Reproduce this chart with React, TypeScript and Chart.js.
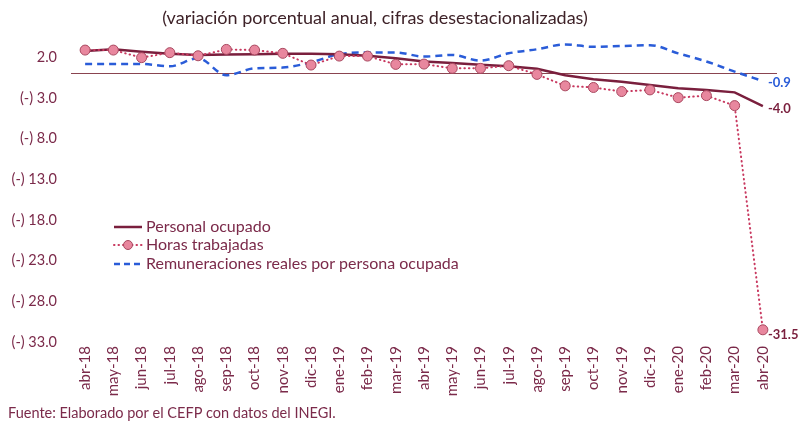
import React, { useEffect, useRef } from "react";
import { Chart, registerables } from "chart.js";

Chart.register(...registerables);

const categories = [
  "abr-18", "may-18", "jun-18", "jul-18", "ago-18", "sep-18", "oct-18", "nov-18", "dic-18",
  "ene-19", "feb-19", "mar-19", "abr-19", "may-19", "jun-19", "jul-19", "ago-19", "sep-19",
  "oct-19", "nov-19", "dic-19", "ene-20", "feb-20", "mar-20", "abr-20",
];

const personalOcupado = [
  2.8, 3.0, 2.7, 2.45, 2.3, 2.35, 2.4, 2.45, 2.45, 2.4, 2.2, 1.9, 1.5, 1.3, 1.1, 0.9, 0.6,
  -0.2, -0.7, -1.0, -1.4, -1.8, -2.0, -2.3, -4.0,
];

const horasTrabajadas = [
  2.9, 2.9, 1.97, 2.58, 2.2, 2.98, 2.9, 2.5, 1.06, 2.16, 2.16, 1.14, 1.18, 0.65, 0.65, 0.98,
  -0.09, -1.5, -1.7, -2.2, -2.0, -2.95, -2.7, -3.93, -31.5,
];

const remuneraciones = [
  1.2, 1.2, 1.2, 0.9, 1.9, -0.2, 0.65, 0.75, 1.4, 2.4, 2.6, 2.6, 2.1, 2.3, 1.6, 2.5, 3.0, 3.6,
  3.3, 3.4, 3.5, 2.5, 1.5, 0.25, -0.9,
];

const yTicks = [-33, -28, -23, -18, -13, -8, -3, 0, 2];

const seriesNames = [
  "Personal ocupado",
  "Horas trabajadas",
  "Remuneraciones reales por persona ocupada",
];

const titleText = "(variación porcentual anual, cifras desestacionalizadas)";
const sourceText = "Fuente: Elaborado por el CEFP con datos del INEGI.";

const FONT = "Lato, 'Open Sans', sans-serif";
const MAROON = "#7a1f3d";
const ZERO_LINE = "#8a4450";
const TEXT = "#7b2a4a";
const PINK_LINE = "#c8385f";
const MARKER_FILL = "#e8879e";
const MARKER_BORDER = "#a8485f";
const BLUE = "#2a5cd8";

function fmt(v: number): string {
  if (v < 0) return "(-) " + Math.abs(v).toFixed(1);
  return v.toFixed(1);
}

const overlayPlugin = {
  id: "overlay",
  afterDraw(chart: any) {
    const ctx = chart.ctx as CanvasRenderingContext2D;
    ctx.save();
    // title
    ctx.fillStyle = "#3e2228";
    ctx.font = `18px ${FONT}`;
    ctx.textAlign = "center";
    ctx.textBaseline = "middle";
    ctx.fillText(titleText, 375, 18);
    // source
    ctx.fillStyle = TEXT;
    ctx.font = `14.5px ${FONT}`;
    ctx.textAlign = "left";
    ctx.fillText(sourceText, 8, 413);

    // legend
    const lx0 = 114, lx1 = 142, tx = 146;
    const rows = [227, 245, 264];
    ctx.font = `16px ${FONT}`;
    ctx.textBaseline = "middle";
    // row 1
    ctx.strokeStyle = MAROON;
    ctx.lineWidth = 2.5;
    ctx.setLineDash([]);
    ctx.beginPath();
    ctx.moveTo(lx0, rows[0]);
    ctx.lineTo(lx1, rows[0]);
    ctx.stroke();
    // row 2
    ctx.strokeStyle = PINK_LINE;
    ctx.lineWidth = 2;
    ctx.lineCap = "round";
    ctx.setLineDash([0.5, 4]);
    ctx.beginPath();
    ctx.moveTo(lx0, rows[1]);
    ctx.lineTo(lx1, rows[1]);
    ctx.stroke();
    ctx.setLineDash([]);
    ctx.lineCap = "butt";
    ctx.fillStyle = MARKER_FILL;
    ctx.strokeStyle = MARKER_BORDER;
    ctx.lineWidth = 1;
    ctx.beginPath();
    ctx.arc((lx0 + lx1) / 2, rows[1], 4.5, 0, Math.PI * 2);
    ctx.fill();
    ctx.stroke();
    // row 3
    ctx.strokeStyle = BLUE;
    ctx.lineWidth = 2.5;
    ctx.setLineDash([6, 4]);
    ctx.beginPath();
    ctx.moveTo(lx0, rows[2]);
    ctx.lineTo(lx1, rows[2]);
    ctx.stroke();
    ctx.setLineDash([]);
    ctx.fillStyle = TEXT;
    seriesNames.forEach((n, i) => ctx.fillText(n, tx, rows[i]));

    // end labels
    ctx.font = `bold 13px ${FONT}`;
    ctx.textAlign = "left";
    const endCfg = [
      { ds: 0, dy: 3, color: MAROON },
      { ds: 1, dy: 5, color: MAROON },
      { ds: 2, dy: 2, color: BLUE },
    ];
    endCfg.forEach((c) => {
      const meta = chart.getDatasetMeta(c.ds);
      const pts = meta.data;
      const last = pts[pts.length - 1];
      const data = chart.data.datasets[c.ds].data as number[];
      const v = data[data.length - 1];
      ctx.fillStyle = c.color;
      ctx.fillText(v.toFixed(1), last.x + 5, last.y + c.dy);
    });
    ctx.restore();
  },
};

export default function App() {
  const ref = useRef<HTMLCanvasElement | null>(null);

  useEffect(() => {
    if (!ref.current) return;
    const chart = new Chart(ref.current, {
      type: "line",
      data: {
        labels: categories,
        datasets: [
          {
            label: seriesNames[0],
            data: personalOcupado,
            borderColor: MAROON,
            borderWidth: 2.5,
            pointRadius: 0,
            tension: 0,
            order: 2,
          },
          {
            label: seriesNames[1],
            data: horasTrabajadas,
            borderColor: PINK_LINE,
            borderWidth: 2,
            borderDash: [0.5, 4],
            borderCapStyle: "round",
            pointRadius: 5,
            pointBackgroundColor: MARKER_FILL,
            pointBorderColor: MARKER_BORDER,
            pointBorderWidth: 1,
            tension: 0,
            order: 1,
          },
          {
            label: seriesNames[2],
            data: remuneraciones,
            borderColor: BLUE,
            borderWidth: 2.5,
            borderDash: [7, 5],
            pointRadius: 0,
            tension: 0.3,
            cubicInterpolationMode: "monotone",
            order: 3,
          },
        ],
      },
      options: {
        animation: false,
        responsive: false,
        maintainAspectRatio: false,
        layout: { padding: { top: 33, bottom: 25, left: 0, right: 24 } },
        plugins: {
          legend: { display: false },
          title: { display: false },
          tooltip: { enabled: false },
        },
        scales: {
          x: {
            offset: true,
            grid: { display: false, drawTicks: false },
            border: { display: false },
            ticks: {
              color: TEXT,
              font: { family: FONT, size: 15 },
              maxRotation: 90,
              minRotation: 90,
              padding: 4,
              autoSkip: false,
            },
            afterFit: (s: any) => {
              s.height = 56;
            },
          },
          y: {
            min: -33,
            max: 5,
            afterBuildTicks: (s: any) => {
              s.ticks = yTicks.map((v) => ({ value: v }));
            },
            grid: {
              drawTicks: false,
              color: (c: any) => (c.tick && c.tick.value === 0 ? ZERO_LINE : "rgba(0,0,0,0)"),
              lineWidth: 1,
            },
            border: { display: false },
            ticks: {
              color: TEXT,
              font: { family: FONT, size: 14.5 },
              padding: 14,
              callback: (v: any) => (Number(v) === 0 ? "" : fmt(Number(v))),
            },
            afterFit: (s: any) => {
              s.width = 71;
            },
          },
        },
      },
      plugins: [overlayPlugin],
    } as any);
    return () => chart.destroy();
  }, []);

  return (
    <div style={{ position: "fixed", left: 0, top: 0, width: 801, height: 423, background: "#fff" }}>
      <canvas ref={ref} width={801} height={423} style={{ width: 801, height: 423, display: "block" }} />
    </div>
  );
}
